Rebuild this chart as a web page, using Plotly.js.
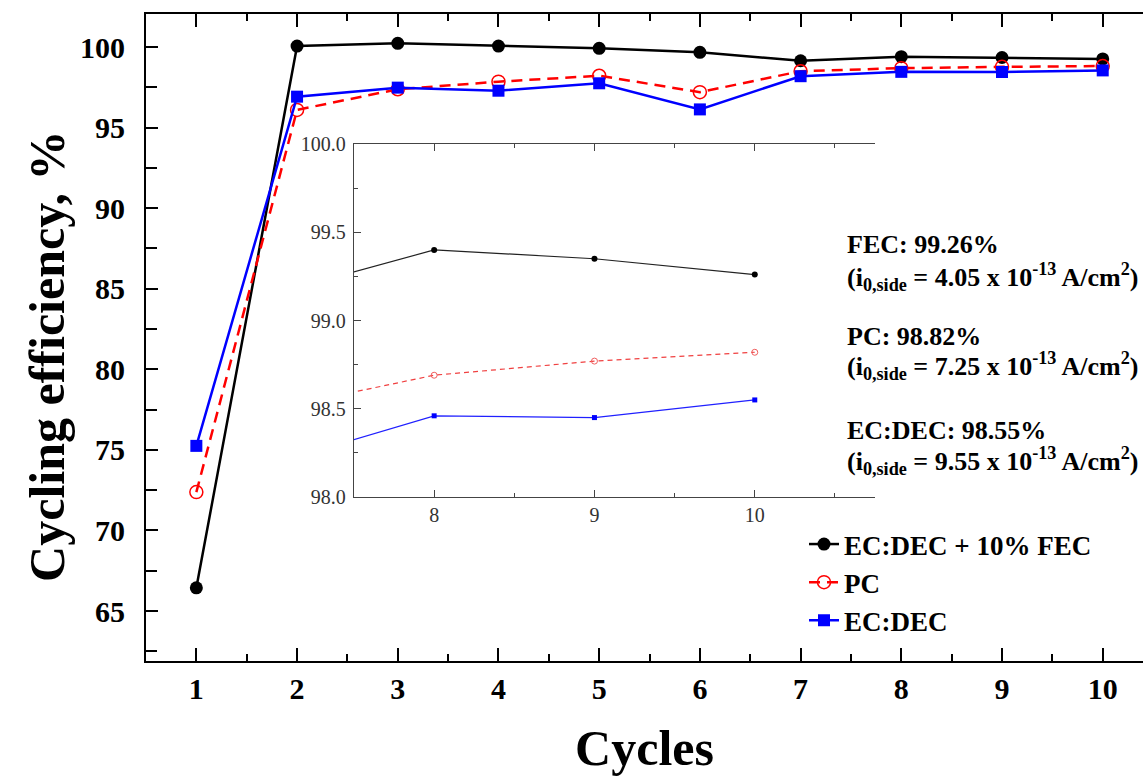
<!DOCTYPE html>
<html>
<head>
<meta charset="utf-8">
<script src="https://cdn.plot.ly/plotly-3.0.1.min.js"></script>
<style>html,body{margin:0;padding:0;background:#fff;}#chart{width:1143px;height:776px;}</style>
</head>
<body>
<div id="chart"></div>
<script>
// ---- data ----
const cycles = [1, 2, 3, 4, 5, 6, 7, 8, 9, 10];
const fecEff   = [66.44, 100.06, 100.23, 100.06, 99.92, 99.67, 99.15, 99.40, 99.35, 99.26];
const pcEff    = [72.38, 96.10, 97.38, 97.85, 98.22, 97.20, 98.50, 98.69, 98.77, 98.82];
const ecdecEff = [75.25, 96.92, 97.48, 97.29, 97.75, 96.13, 98.19, 98.46, 98.45, 98.55];
const seriesNames = ['EC:DEC + 10% FEC', 'PC', 'EC:DEC'];
const xTickVals = [1, 2, 3, 4, 5, 6, 7, 8, 9, 10];
const insetXTicks = [8, 9, 10];
const insetYTicks = [98.0, 98.5, 99.0, 99.5, 100.0];
const noteTitles = ['FEC: 99.26%', 'PC: 98.82%', 'EC:DEC: 98.55%'];
const noteCurrents = ['4.05', '7.25', '9.55'];

const serif = '"Liberation Serif", "Times New Roman", serif';
const boldFont = (size) => ({family: serif, size: size, color: '#000', weight: 'bold'});

const traces = [
  {x: cycles, y: fecEff, name: seriesNames[0], mode: 'lines+markers', legendgroup: 'a',
   line: {color: '#000000', width: 2.5}, marker: {symbol: 'circle', size: 13, color: '#000000'}},
  {x: cycles, y: pcEff, name: seriesNames[1], mode: 'lines+markers', legendgroup: 'b',
   line: {color: '#ff0000', width: 2.5, dash: '11px,7px'},
   marker: {symbol: 'circle-open', size: 13, color: '#ff0000', line: {width: 1.5, color: '#ff0000'}}},
  {x: cycles, y: ecdecEff, name: seriesNames[2], mode: 'lines+markers', legendgroup: 'c',
   line: {color: '#0000ff', width: 2.5}, marker: {symbol: 'square', size: 12, color: '#0000ff'}},
  // inset (same data, zoomed)
  {x: cycles, y: fecEff, xaxis: 'x2', yaxis: 'y2', mode: 'lines+markers', showlegend: false,
   line: {color: '#222222', width: 1.2}, marker: {symbol: 'circle', size: 6, color: '#000000'}},
  {x: cycles, y: pcEff, xaxis: 'x2', yaxis: 'y2', mode: 'lines+markers', showlegend: false,
   line: {color: '#f04040', width: 1.2, dash: '5px,4px'},
   marker: {symbol: 'circle-open', size: 6, color: '#f06060', line: {width: 1, color: '#f06060'}}},
  {x: cycles, y: ecdecEff, xaxis: 'x2', yaxis: 'y2', mode: 'lines+markers', showlegend: false,
   line: {color: '#2020ff', width: 1.2}, marker: {symbol: 'square', size: 5, color: '#0000ff'}}
];

const annY = [[244, 277], [336, 366], [430, 461]];
const plotTop = 14, plotH = 647;
const toPaperY = (py) => 1 - (py - plotTop) / plotH;
const annotations = [];
for (let i = 0; i < 3; i++) {
  annotations.push({xref: 'paper', yref: 'paper', x: (845 - 146) / 997, y: toPaperY(annY[i][0]),
    xanchor: 'left', yanchor: 'middle', showarrow: false, text: noteTitles[i], font: boldFont(26)});
  annotations.push({xref: 'paper', yref: 'paper', x: (845 - 146) / 997, y: toPaperY(annY[i][1]),
    xanchor: 'left', yanchor: 'middle', showarrow: false,
    text: '(i<sub>0,side</sub> = ' + noteCurrents[i] + ' x 10<sup>-13</sup> A/cm<sup>2</sup>)',
    font: boldFont(26)});
}

const layout = {
  width: 1143, height: 776,
  margin: {l: 146, r: 0, t: 14, b: 115},
  paper_bgcolor: '#ffffff', plot_bgcolor: '#ffffff',
  showlegend: true,
  legend: {x: (804 - 146) / 997, y: toPaperY(520), xanchor: 'left', yanchor: 'top',
    bgcolor: 'rgba(0,0,0,0)', font: boldFont(27), traceorder: 'normal'},
  xaxis: {
    range: [0.5, 10.4], tickmode: 'array', tickvals: xTickVals,
    ticks: 'inside', ticklen: 13, tickwidth: 2, tickcolor: '#000',
    minor: {dtick: 0.5, tick0: 0.5, ticklen: 7, tickwidth: 2, tickcolor: '#000', ticks: 'inside'},
    showline: true, linewidth: 2, linecolor: '#000', mirror: 'ticks',
    showgrid: false, zeroline: false,
    tickfont: boldFont(30), ticklabelstandoff: 0,
    title: {text: 'Cycles', font: boldFont(50), standoff: 34}
  },
  yaxis: {
    range: [61.9, 102.05], tickmode: 'linear', tick0: 65, dtick: 5,
    ticks: 'inside', ticklen: 12, tickwidth: 2, tickcolor: '#000',
    minor: {dtick: 2.5, tick0: 62.5, ticklen: 11, tickwidth: 2, tickcolor: '#000', ticks: 'inside'},
    showline: true, linewidth: 2, linecolor: '#000', mirror: false,
    showgrid: false, zeroline: false,
    tickfont: boldFont(30), ticklabelstandoff: 13,
    title: {text: 'Cycling efficiency, %&nbsp;&nbsp;&nbsp;', font: boldFont(50), standoff: 0}
  },
  xaxis2: {
    domain: [(354 - 146) / 997, (875 - 146) / 997], anchor: 'y2',
    range: [7.5, 10.75], tickmode: 'array', tickvals: insetXTicks,
    ticks: 'inside', ticklen: 7, tickwidth: 1, tickcolor: '#444',
    minor: {dtick: 0.5, tick0: 7.5, ticklen: 4, tickwidth: 1, tickcolor: '#444', ticks: 'inside'},
    showline: true, linewidth: 1.2, linecolor: '#444', mirror: 'ticks',
    showgrid: false, zeroline: false,
    tickfont: {family: serif, size: 20, color: '#333'}, ticklabelstandoff: 0
  },
  yaxis2: {
    domain: [toPaperY(497), toPaperY(144)], anchor: 'x2',
    range: [98.0, 100.0], tickmode: 'array', tickvals: insetYTicks, tickformat: '.1f',
    ticks: 'inside', ticklen: 7, tickwidth: 1, tickcolor: '#444',
    minor: {dtick: 0.25, tick0: 98, ticklen: 4, tickwidth: 1, tickcolor: '#444', ticks: 'inside'},
    showline: true, linewidth: 1.2, linecolor: '#444', mirror: false,
    showgrid: false, zeroline: false,
    tickfont: {family: serif, size: 20, color: '#333'}, ticklabelstandoff: 3
  },
  annotations: annotations
};

Plotly.newPlot('chart', traces, layout, {staticPlot: true, displayModeBar: false});
</script>
</body>
</html>
